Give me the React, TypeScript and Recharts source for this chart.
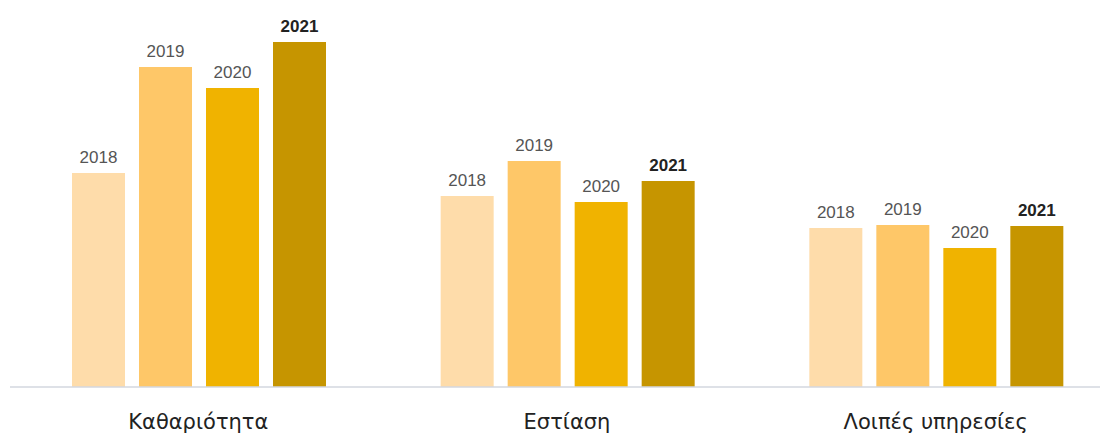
import { BarChart, Bar, XAxis, YAxis, LabelList } from "recharts";

const categories = ["Καθαριότητα", "Εστίαση", "Λοιπές υπηρεσίες"];
const years = ["2018", "2019", "2020", "2021"];
const values2018 = [214, 191, 159];
const values2019 = [320, 226, 162];
const values2020 = [299, 185, 139];
const values2021 = [345, 206, 161];
const colors = ["#FEDCAA", "#FEC768", "#F0B300", "#C69500"];

const data = categories.map((name, i) => ({
  name,
  y2018: values2018[i],
  y2019: values2019[i],
  y2020: values2020[i],
  y2021: values2021[i],
}));

// year label above each bar, last year in bold
const yearLabel = (year: string) => (props: any) => {
  const { x, y, width } = props;
  const bold = year === "2021";
  return (
    <text
      x={x + width / 2}
      y={y - 10}
      textAnchor="middle"
      fontFamily="'Liberation Sans', Arial, sans-serif"
      fontSize={17}
      fontWeight={bold ? 700 : 400}
      fill={bold ? "#222" : "#555"}
    >
      {year}
    </text>
  );
};

const App = () => {
  return (
    <div
      style={{
        margin: "-8px 0 0 -8px",
        width: 1108,
        height: 435,
        overflow: "hidden",
        background: "#fff",
      }}
    >
      <BarChart
        width={1126}
        height={435}
        data={data}
        margin={{ top: 0, right: 6, left: 10, bottom: 18 }}
        barCategoryGap={58}
        barGap={14}
      >
        <XAxis
          dataKey="name"
          height={30}
          axisLine={{ stroke: "#D3D7DF", strokeWidth: 1.5 }}
          tickLine={false}
          padding={{ left: 4, right: 0 }}
          tick={{
            fontFamily: "'DejaVu Sans', sans-serif",
            fontSize: 21,
            fill: "#222",
          }}
          tickMargin={21}
          interval={0}
        />
        <YAxis hide domain={[0, 387]} />
        {years.map((year, i) => (
          <Bar
            key={year}
            dataKey={`y${year}`}
            fill={colors[i]}
            isAnimationActive={false}
          >
            <LabelList content={yearLabel(year)} />
          </Bar>
        ))}
      </BarChart>
    </div>
  );
};

export default App;
